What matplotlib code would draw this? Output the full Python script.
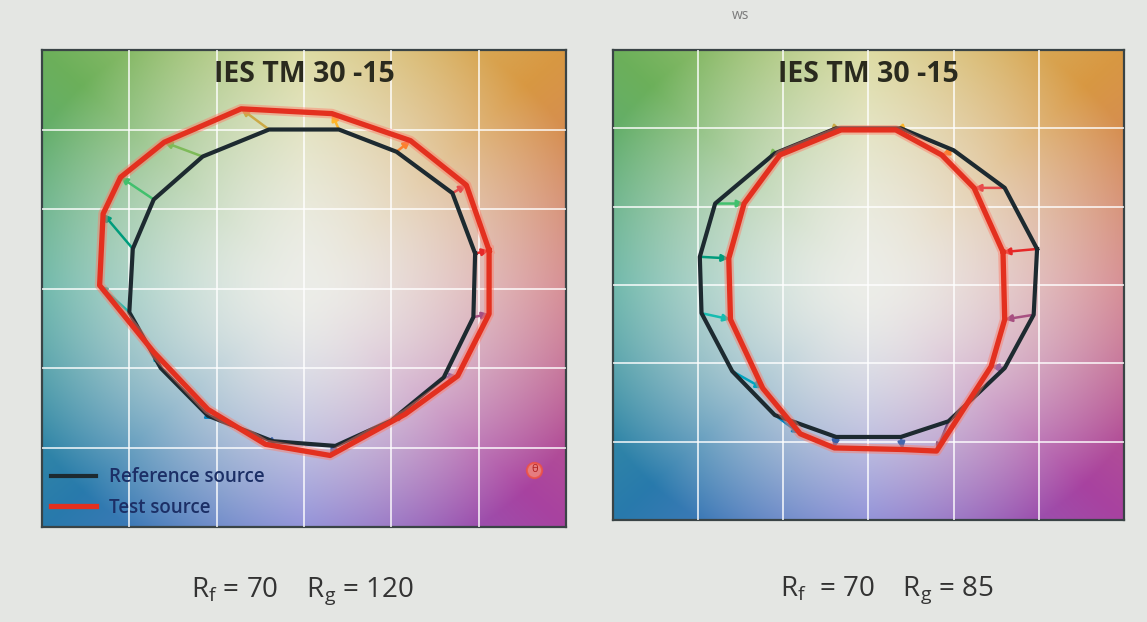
import numpy as np
import matplotlib
matplotlib.use("Agg")
from matplotlib import pyplot as plt

plt.rcParams["font.family"] = ["Open Sans", "DejaVu Sans"]

# 16 hue bins, reference -> test (normalised a', b')
ref_left_x = [0.98, 0.85, 0.53, 0.2, -0.2, -0.58, -0.86, -0.98, -1.0, -0.82, -0.55, -0.18, 0.18, 0.5, 0.8, 0.97]
ref_left_y = [0.22, 0.6, 0.86, 1.0, 1.0, 0.83, 0.56, 0.25, -0.15, -0.5, -0.8, -0.96, -0.99, -0.83, -0.56, -0.18]
test_left_x = [1.06, 0.93, 0.61, 0.16, -0.36, -0.8, -1.05, -1.15, -1.17, -0.86, -0.55, -0.22, 0.15, 0.58, 0.88, 1.06]
test_left_y = [0.24, 0.65, 0.93, 1.1, 1.13, 0.92, 0.7, 0.47, 0.02, -0.4, -0.76, -0.98, -1.05, -0.79, -0.55, -0.16]

ref_right_x = [0.99, 0.8, 0.5, 0.19, -0.19, -0.55, -0.9, -0.99, -0.98, -0.8, -0.55, -0.19, 0.19, 0.47, 0.8, 0.97]
ref_right_y = [0.23, 0.62, 0.86, 1.0, 1.0, 0.84, 0.52, 0.18, -0.18, -0.55, -0.83, -0.97, -0.97, -0.87, -0.53, -0.19]
test_right_x = [0.79, 0.62, 0.43, 0.16, -0.16, -0.52, -0.73, -0.82, -0.81, -0.62, -0.4, -0.2, 0.2, 0.4, 0.72, 0.8]
test_right_y = [0.21, 0.62, 0.83, 0.99, 0.99, 0.83, 0.52, 0.17, -0.22, -0.66, -0.95, -1.04, -1.05, -1.06, -0.52, -0.22]

bin_colors = ['#e62828', '#e74b4b', '#fb812e', '#ffb529', '#cba946', '#7ebb59', '#41c06d', '#009c7c',
              '#16bcb0', '#00a4bf', '#0085c3', '#3b62aa', '#4568ae', '#6a4e85', '#9d69a1', '#a74f81']

title = 'IES TM 30 -15'
scores_left = r'R$_\mathregular{f}$ = 70    R$_\mathregular{g}$ = 120'
scores_right = r'R$_\mathregular{f}$  = 70    R$_\mathregular{g}$ = 85'

# background hue ring (right, upper right, top, ... going anticlockwise)
ring = np.array([[208, 112, 122], [216, 152, 66], [216, 214, 140], [108, 176, 90],
                 [72, 168, 152], [40, 122, 172], [118, 118, 212], [168, 66, 160]]) / 255.0
white = np.array([236, 237, 232]) / 255.0


def background():
    g = np.linspace(-1.5, 1.5, 400)
    X, Y = np.meshgrid(g, g)
    ang = np.degrees(np.arctan2(Y, X)) % 360
    pos = ang / 45.0
    i0 = np.floor(pos).astype(int) % 8
    i1 = (i0 + 1) % 8
    f = (pos - np.floor(pos))[..., None]
    hue = ring[i0] * (1 - f) + ring[i1] * f
    r = np.hypot(X, Y)
    t = (np.clip(r / 1.8, 0, 1) ** 1.6)[..., None]
    return white * (1 - t) + hue * t


def panel(ax, rx, ry, tx, ty):
    ax.imshow(background(), extent=(-1.5, 1.5, -1.5, 1.5), origin='lower', aspect='auto', zorder=0)
    ax.set_xlim(-1.5, 1.5)
    ax.set_ylim(-1.5, 1.5)
    ax.set_xticks([-1, -0.5, 0, 0.5, 1])
    ax.set_yticks([-1, -0.5, 0, 0.5, 1])
    ax.tick_params(length=0, labelbottom=False, labelleft=False)
    ax.grid(color='white', lw=1.4, alpha=0.75)
    ax.set_axisbelow(False)
    for s in ax.spines.values():
        s.set_color('#3a4446')
        s.set_linewidth(1.6)

    for i in range(len(rx)):
        ax.annotate('', xy=(tx[i], ty[i]), xytext=(rx[i], ry[i]),
                    arrowprops=dict(arrowstyle='-|>', color=bin_colors[i], lw=1.8,
                                    mutation_scale=10, shrinkA=0, shrinkB=0), zorder=3)

    ax.plot(rx + rx[:1], ry + ry[:1], color='#1d2a30', lw=3, zorder=4,
            solid_joinstyle='round', label='Reference source')
    ax.plot(tx + tx[:1], ty + ty[:1], color='#ff7a66', lw=7, alpha=0.45, zorder=5,
            solid_joinstyle='round')
    ax.plot(tx + tx[:1], ty + ty[:1], color='#e3301f', lw=3.8, zorder=6,
            solid_joinstyle='round', label='Test source')

    ax.text(0.5, 0.948, title, transform=ax.transAxes, ha='center', va='center',
            fontsize=20.5, fontweight='bold', color='#2a2a1e', zorder=7)


fig = plt.figure(figsize=(11.47, 6.22), dpi=100, facecolor='#e4e6e3')

ax1 = fig.add_axes([0.0366, 0.1527, 0.4568, 0.7669])
panel(ax1, ref_left_x, ref_left_y, test_left_x, test_left_y)
leg = ax1.legend(loc='lower left', frameon=False, handlelength=2.4, handletextpad=0.7,
                 fontsize=13.5, borderaxespad=0.2, borderpad=0.3, labelspacing=0.55)
for txt in leg.get_texts():
    txt.set_color('#1c2f66')
    txt.set_fontweight('semibold')
ax1.plot([0.94], [0.12], transform=ax1.transAxes, marker='o', ms=11, mfc='#f58a78',
         mec='#f05040', mew=1.5, alpha=0.8, zorder=7)
ax1.text(0.94, 0.12, 'θ', transform=ax1.transAxes, ha='center', va='center',
         fontsize=8, color='#b02020', zorder=8)

ax2 = fig.add_axes([0.5344, 0.164, 0.4455, 0.7556])
panel(ax2, ref_right_x, ref_right_y, test_right_x, test_right_y)

fig.text(0.264, 0.049, scores_left, ha='center', va='center', fontsize=20, color='#333333')
fig.text(0.773, 0.052, scores_right, ha='center', va='center', fontsize=20, color='#333333')
fig.text(0.646, 0.975, 'ws', ha='center', va='center', fontsize=10, color='#7a7a7a')

fig.savefig('out.png', dpi=100, facecolor=fig.get_facecolor())
